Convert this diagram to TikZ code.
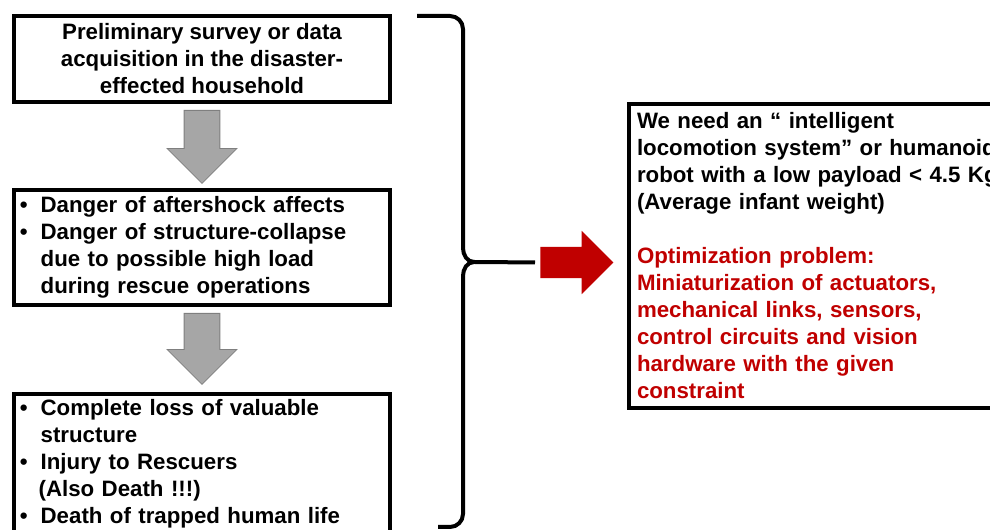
\documentclass[tikz,border=0pt]{standalone}
\usepackage{fontspec}
\setmainfont{Liberation Sans}
\usetikzlibrary{shapes.arrows}
\newcommand{\blt}{\makebox[17pt][l]{\hspace{1.5pt}\textbullet}}

\begin{document}
\begin{tikzpicture}[x=0.75pt,y=-0.75pt,
  box/.style={draw,line width=3pt,align=center,font=\bfseries\fontsize{16.7}{20.25}\selectfont},
  listbox/.style={box,align=left,text width=276pt,inner xsep=3pt},
  downarrow/.style={single arrow,fill=arrowgray,draw=arrowedge,line width=0.6pt,anchor=tail,
    shape border rotate=270,inner sep=13.1pt,single arrow head extend=12.75pt},
  bracepath/.style={line width=3pt,line join=round}]
\definecolor{arrowgray}{HTML}{A6A6A6}
\definecolor{arrowedge}{HTML}{7F7F7F}
\definecolor{alertred}{HTML}{C00000}
\clip (0,0) rectangle (990,530);
\node[box,minimum width=282pt,minimum height=64.5pt] (survey) at (202,59)
  {Preliminary survey or data\\acquisition in the disaster-\\effected household};
\node[listbox,minimum height=86pt] (danger) at (202,247.5)
  {\blt Danger of aftershock affects\\
   \blt Danger of structure-collapse\\
   \hspace*{17pt}due to possible high load\\
   \hspace*{17pt}during rescue operations};
\node[listbox,minimum height=105pt] (loss) at (202,464)
  {\blt Complete loss of valuable\\
   \hspace*{17pt}structure\\
   \blt Injury to Rescuers\\
   \hspace*{15.5pt}(Also Death !!!)\\
   \blt Death of trapped human life};
\node[downarrow,minimum height=54.75pt] (arrowA) at (202,110) {};
\node[downarrow,minimum height=53.25pt] (arrowB) at (202,313) {};
\node[box,align=left,text width=300pt,inner xsep=6pt,minimum height=228pt] (need) at (837,256)
  {We need an “ intelligent\\
   locomotion system” or humanoid\\
   robot with a low payload < 4.5 Kg\\
   (Average infant weight)\\[20.25pt]
   \color{alertred}Optimization problem:\\
   \color{alertred}Miniaturization of actuators,\\
   \color{alertred}mechanical links, sensors,\\
   \color{alertred}control circuits and vision\\
   \color{alertred}hardware with the given\\
   \color{alertred}constraint};
\node[single arrow,fill=alertred,inner sep=11.6pt,single arrow head extend=12pt,anchor=tail,
  minimum height=54.75pt] (redarrow) at (540,262.5) {};
% brace
\coordinate (tip) at (474,262);
\draw[bracepath] (417,16) -- (450,16) to[out=0,in=90] (463,29) -- (463,248)
  to[out=-90,in=180] (tip) to[out=180,in=90] (463,276) -- (463,514)
  to[out=-90,in=0] (450,527) -- (438,527);
\draw[line width=3pt,shorten >=3.75pt] (tip) -- (redarrow.tail);
\end{tikzpicture}
\end{document}
